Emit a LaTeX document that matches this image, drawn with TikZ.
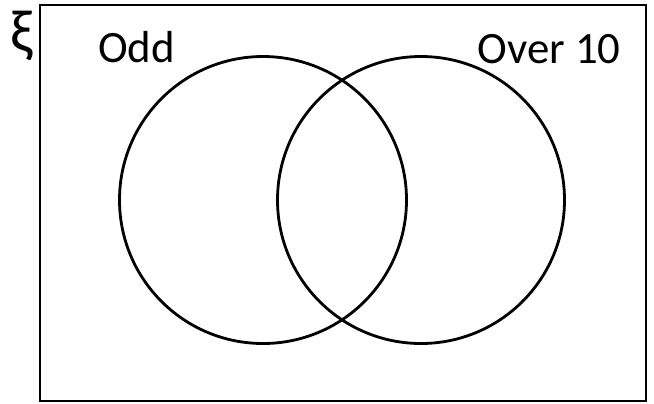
\documentclass[tikz,border=0pt]{standalone}
\usepackage{fontspec}
\setmainfont{Carlito}
\begin{document}
\begin{tikzpicture}[x=1bp,y=-1bp,
  setline/.style={draw=black,line width=2.8bp},
  setlabel/.style={font=\fontsize{45}{54}\selectfont,inner sep=0pt,anchor=base}]
\useasboundingbox (0,0) rectangle (654,403);
\node[setline,rectangle,minimum width=606bp,minimum height=396bp,inner sep=0pt] (U) at (343,203) {};
\node[setline,circle,minimum size=287bp,inner sep=0pt] (A) at (263,200) {};
\node[setline,circle,minimum size=287bp,inner sep=0pt] (B) at (421,200) {};
\node[setlabel,font=\fontsize{60}{66}\selectfont] (xi) at (22,51) {ξ};
\node[setlabel] (odd) at (136.5,62) {Odd};
\node[setlabel] (over) at (549,63) {Over 10};
\end{tikzpicture}
\end{document}
